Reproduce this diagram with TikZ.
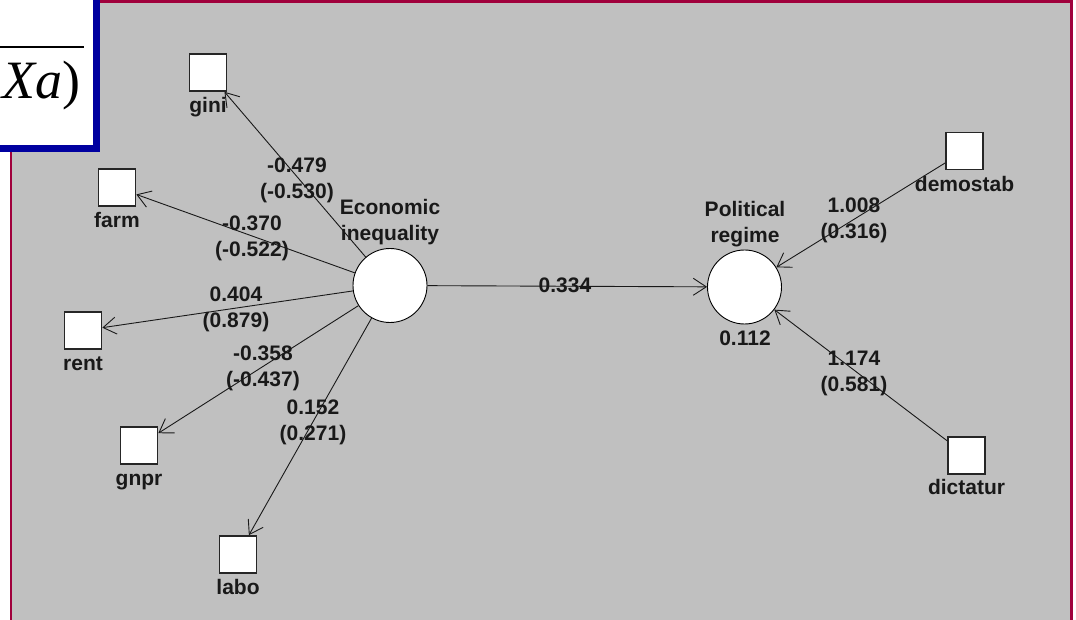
\documentclass[tikz,border=0pt]{standalone}
\usepackage{fontspec}
\setmainfont{Liberation Sans}
\newfontfamily\slideserif{Liberation Serif}
\usetikzlibrary{arrows.meta,calc}

\definecolor{panelgray}{RGB}{192,192,192}
\definecolor{framered}{RGB}{160,0,60}
\definecolor{frameblue}{RGB}{0,0,160}

\newcommand\pathfont{\fontsize{21}{26}\selectfont\bfseries}

\tikzset{
  indicator/.style={draw=black!85, line width=1.6pt, fill=white,
    minimum size=37pt, inner sep=0pt},
  latent/.style={circle, draw=black, line width=0.9pt, fill=white,
    minimum size=74pt, inner sep=0pt},
  link/.style={draw=black!90, line width=0.9pt,
    -{Straight Barb[length=13pt,width=17pt,line width=0.9pt]}},
  coef/.style={font=\pathfont, align=center, inner sep=0pt, text=black!90},
  varname/.style={font=\pathfont, inner sep=0pt, anchor=base, text=black!90},
}

\begin{document}
\begin{tikzpicture}[x=1pt, y=-1pt]
  \useasboundingbox (0,0) rectangle (1076,620);

  % grey drawing panel with its red frame
  \fill[panelgray] (10,0) rectangle (1072,620);
  \fill[framered] (10,0) rectangle (1073,3.3);
  \fill[framered] (9.5,0) rectangle (12,620);
  \fill[framered] (1070,0) rectangle (1073,620);

  % latent variables
  \node[latent] (econ) at (390,285.5) {};
  \node[latent] (pol) at (744.5,287) {};

  % manifest variables
  \node[indicator] (gini) at (208,72.5) {};
  \node[indicator] (farm) at (117,187.5) {};
  \node[indicator] (rent) at (83,330.5) {};
  \node[indicator] (gnpr) at (139,445.5) {};
  \node[indicator] (labo) at (238,554.5) {};
  \node[indicator] (demostab) at (964.5,151) {};
  \node[indicator] (dictatur) at (966.5,455.5) {};

  % variable names
  \node[varname] (ginil) at ($(gini.south)+(0,21)$) {gini};
  \node[varname] (farml) at ($(farm.south)+(0,21)$) {farm};
  \node[varname] (rentl) at ($(rent.south)+(0,21)$) {rent};
  \node[varname] (gnprl) at ($(gnpr.south)+(0,21)$) {gnpr};
  \node[varname] (labol) at ($(labo.south)+(0,21)$) {labo};
  \node[varname] (demostabl) at ($(demostab.south)+(0,21)$) {demostab};
  \node[varname] (dictaturl) at ($(dictatur.south)+(0,20)$) {dictatur};
  \node[coef] (econl) at (390,222) {Economic\strut\\inequality\strut};
  \node[coef] (poll) at (745,224.5) {Political\strut\\regime\strut};
  \node[coef] (polr2) at (745,340) {0.112\strut};

  % paths
  \draw[link] (econ) -- (gini);
  \draw[link] (econ) -- (farm);
  \draw[link] (econ) -- (rent);
  \draw[link] (econ) -- (gnpr);
  \draw[link] (econ) -- (labo);
  \draw[link] (econ) -- (pol);
  \draw[link] (demostab) -- (pol);
  \draw[link] (dictatur) -- (pol);

  % path coefficients
  \node[coef] (cgini) at (297,180.5) {-0.479\strut\\(-0.530)\strut};
  \node[coef] (cfarm) at (252,238.5) {-0.370\strut\\(-0.522)\strut};
  \node[coef] (crent) at (236,309.5) {0.404\strut\\(0.879)\strut};
  \node[coef] (cgnpr) at (263,368) {-0.358\strut\\(-0.437)\strut};
  \node[coef] (clabo) at (313,422) {0.152\strut\\(0.271)\strut};
  \node[coef] (cpol) at (565,287) {0.334\strut};
  \node[coef] (cdemo) at (854,220.5) {1.008\strut\\(0.316)\strut};
  \node[coef] (cdict) at (854,373.5) {1.174\strut\\(0.581)\strut};

  % formula card overlapping the corner
  \fill[frameblue] (0,0) rectangle (99.5,152.5);
  \fill[white] (0,0) rectangle (92.5,145);
  \draw[line width=2pt] (0,47.5) -- (84,47.5);
  \node[anchor=base east, inner sep=0pt,
        font=\slideserif\fontsize{54}{60}\selectfont] (formula) at (81,99)
        {\textit{Xa\/})};
\end{tikzpicture}
\end{document}
